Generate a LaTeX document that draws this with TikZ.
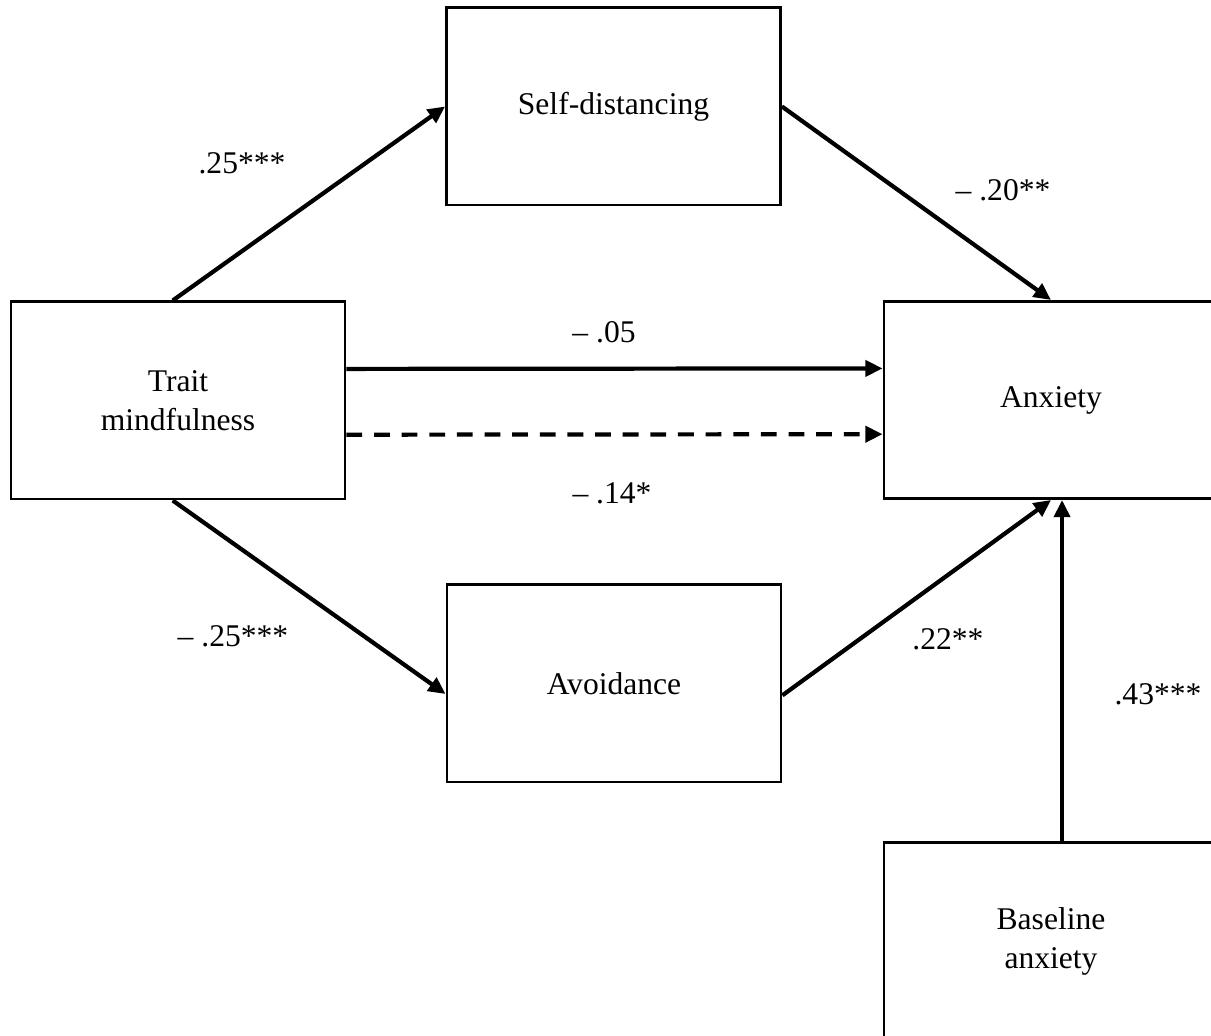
\documentclass[tikz,border=0pt]{standalone}
\usepackage{fontspec}
\setmainfont{Liberation Serif}
\usetikzlibrary{arrows.meta}

\begin{document}
\begin{tikzpicture}[x=0.38pt, y=-0.38pt,
  box/.style={draw, line width=1.1pt, minimum width=126.9pt, minimum height=74.9pt, inner sep=0pt, align=center, font=\fontsize{12}{14.8}\selectfont},
  lbl/.style={inner sep=0pt, font=\fontsize{12}{14.8}\selectfont},
  link/.style={line width=1.6pt, -{Triangle[length=6.5pt, width=6pt]}}]
  \useasboundingbox (0,0) rectangle (1211,1036);
  \clip (0,0) rectangle (1211,1036);

  \node[box] (trait) at (178,400.5) {Trait\\mindfulness};
  \node[box] (self) at (613.5,106.5) {Self-distancing};
  \node[box] (anx) at (1051,400) {Anxiety};
  \node[box] (avoid) at (614,683.5) {Avoidance};
  \node[box] (base) at (1051,941.5) {Baseline\\anxiety};

  \draw[link] ([xshift=-2pt]trait.north) -- (self.west);
  \draw[link] (self.east) -- (anx.north);
  \draw[link] ([yshift=12pt]trait.east) -- ([yshift=12pt]anx.west);
  \draw[link, dashed, dash pattern=on 6pt off 4.5pt] ([yshift=-13pt]trait.east) -- ([yshift=-13pt]anx.west);
  \draw[link] ([xshift=-2pt]trait.south) -- ([yshift=-4pt]avoid.west);
  \draw[link] ([yshift=-4.5pt]avoid.east) -- (anx.south);
  \draw[link] ([xshift=4.2pt]base.north) -- ([xshift=4.2pt]anx.south);

  \node[lbl] (l1) at (242,163) {.25***};
  \node[lbl] (l2) at (1003,190) {– .20**};
  \node[lbl] (l3) at (604,332) {– .05};
  \node[lbl] (l4) at (612,493) {– .14*};
  \node[lbl] (l5) at (233,636) {– .25***};
  \node[lbl] (l6) at (948,639) {.22**};
  \node[lbl] (l7) at (1158,694) {.43***};
\end{tikzpicture}
\end{document}
